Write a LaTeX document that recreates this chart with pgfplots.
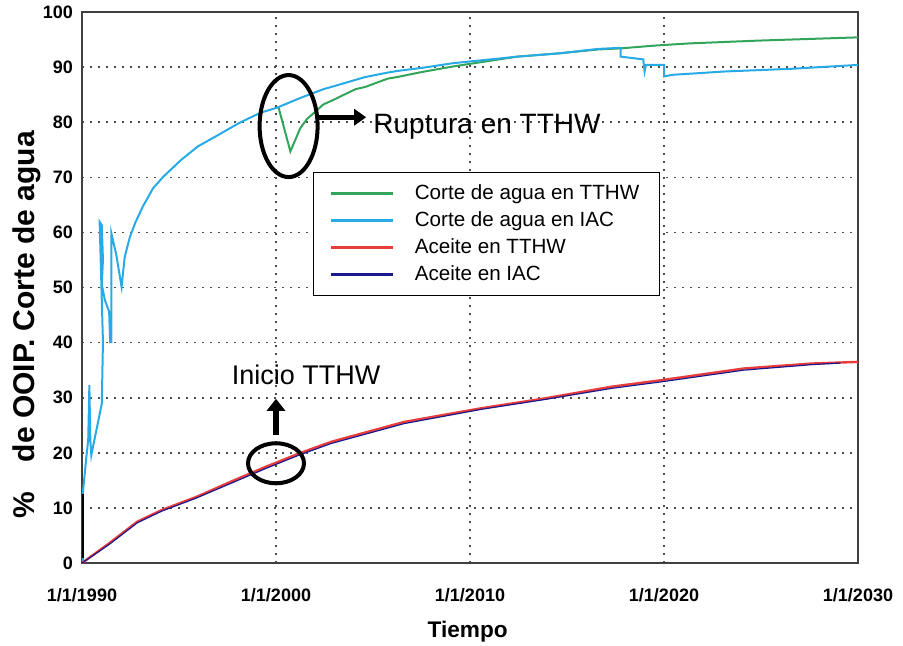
\documentclass[border=0pt]{standalone}
\usepackage{pgfplots}
\pgfplotsset{compat=1.18}
\usepackage{fontspec}
\setmainfont{Liberation Sans}
\usetikzlibrary{arrows.meta}
\definecolor{cgreen}{RGB}{50,165,90}
\definecolor{cblue}{RGB}{40,170,230}
\definecolor{cred}{RGB}{235,60,60}
\definecolor{cnavy}{RGB}{25,25,140}
\begin{document}
\begin{tikzpicture}
\begin{axis}[
  scale only axis, width=388pt, height=275.5pt,
  xmin=1990, xmax=2030, ymin=0, ymax=100,
  xtick={1990,2000,2010,2020,2030},
  xticklabels={1/1/1990,1/1/2000,1/1/2010,1/1/2020,1/1/2030},
  ytick={0,10,...,100},
  major tick length=0pt,
  grid=major,
  major grid style={draw=gray!60!black, line width=0.8pt, dash pattern=on 0.9pt off 3.1pt},
  axis line style={draw=gray!50!black, line width=0.8pt},
  /pgf/number format/assume math mode=true,
  tick label style={font=\bfseries\fontsize{9}{9}\selectfont},
  xticklabel style={yshift=-9pt},
  yticklabel style={xshift=-1pt},
  xlabel={Tiempo},
  xlabel style={font=\bfseries\fontsize{11.3}{12}\selectfont, at={(axis description cs:0.497,-0.125)}, anchor=center},
  ylabel={\%\quad de OOIP. Corte de agua},
  ylabel style={font=\bfseries\fontsize{15}{16}\selectfont, at={(axis description cs:-0.071,0.432)}, anchor=center},
  legend style={at={(axis description cs:0.298,0.7096)}, anchor=north west, draw=black, line width=0.6pt,
    font=\fontsize{10.3}{12}\selectfont, cells={anchor=west}, inner xsep=8pt, inner ysep=4pt, row sep=0.5pt,
    /tikz/every odd column/.append style={column sep=8pt}},
  legend image code/.code={\draw[#1, line width=1.5pt] (0pt,0pt) -- (31pt,0pt);},
]
% Corte de agua en TTHW
\addplot[cgreen, line width=1pt] coordinates {
(2000.13,82.7) (2000.74,74.7) (2001.25,78.9) (2001.6,80.6) (2001.93,81.6) (2002.43,83.2)
(2002.93,84.0) (2004.1,86.0) (2004.6,86.4) (2005.75,87.9) (2006.25,88.2) (2007.5,89.1)
(2009.1,90.1) (2010.75,91.0) (2012.43,91.9) (2014.6,92.5) (2016.6,93.2) (2017.77,93.4)
(2019.5,93.9) (2021.3,94.3) (2024.8,94.8) (2030,95.4)};
\addlegendentry{Corte de agua en TTHW}
% Corte de agua en IAC
\addplot[cblue, line width=1pt] coordinates {
(1990.05,0) (1990.05,12.9) (1990.22,19.1) (1990.32,22.3) (1990.38,32.3) (1990.43,22.3)
(1990.48,19.6) (1991.02,28.9) (1991.08,40.1) (1990.91,61.9) (1991.02,61.3) (1991.08,55.0)
(1991.02,50.5) (1991.18,47.7) (1991.40,45.6) (1991.45,40.1) (1991.51,40.1) (1991.51,59.9)
(1991.77,55.9) (1992.04,50.1) (1992.20,55.5) (1992.47,59.2) (1992.74,61.7) (1993.12,64.6)
(1993.66,68.0) (1994.19,70.1) (1995.09,73.1) (1995.97,75.6) (1996.88,77.4) (1998.12,79.9) (1999.19,81.7)
(2000.10,82.7) (2001.25,84.4) (2002.45,86.0) (2002.95,86.5) (2004.6,88.2) (2005.75,89.0)
(2006.25,89.3) (2007.6,89.9) (2009.1,90.7) (2012.45,91.9) (2014.6,92.5) (2016.6,93.3)
(2017.77,93.5) (2017.77,91.9) (2018.93,91.4) (2019.0,89.2) (2019.07,90.4) (2020.0,90.4)
(2020.0,88.3) (2020.43,88.6) (2023.1,89.2) (2026.6,89.7) (2030,90.4)};
\addlegendentry{Corte de agua en IAC}
% Aceite en TTHW
\addplot[cred, line width=1.2pt] coordinates {
(1990.0,0) (1991.41,3.6) (1992.85,7.5) (1994.1,9.6) (1995.9,12.0) (1997.7,14.8)
(1999.5,17.5) (2001.2,19.9) (2002.85,22.0) (2006.6,25.6) (2010.6,28.1) (2013.9,29.9)
(2017.3,32.0) (2019.9,33.2) (2024.1,35.3) (2027.6,36.2) (2030,36.5)};
\addlegendentry{Aceite en TTHW}
% Aceite en IAC
\addplot[cnavy, line width=0.6pt] coordinates {
(1990.0,0) (1991.41,3.4) (1992.85,7.3) (1994.1,9.4) (1995.9,11.8) (1997.7,14.5)
(1999.5,17.2) (2001.2,19.6) (2002.85,21.7) (2006.6,25.3) (2010.6,27.9) (2013.9,29.7)
(2017.3,31.7) (2019.9,32.9) (2024.1,35.0) (2027.6,36.0) (2029.1,36.3)};
\addlegendentry{Aceite en IAC}
\addplot[black, line width=1.5pt, forget plot] coordinates {(1990.03,1) (1990.03,12.5)};
% annotations
\draw[black, line width=2pt] (axis cs:2000.65,79.3) ellipse [x radius=14.5pt, y radius=25.5pt];
\draw[black, line width=2.5pt, -{Triangle[length=6pt,width=8pt]}] (axis cs:2002.2,80.9) -- (axis cs:2004.65,80.9);
\node[anchor=west, font=\fontsize{14}{15}\selectfont, inner sep=0pt] at (axis cs:2005.0,79.1) {Ruptura en TTHW};
\draw[black, line width=2pt] (axis cs:2000.0,18.1) ellipse [x radius=14pt, y radius=10pt];
\draw[black, line width=3pt, -{Triangle[length=6pt,width=9pt]}] (axis cs:2000.0,23.3) -- (axis cs:2000.0,29.8);
\node[font=\fontsize{13.5}{14}\selectfont, inner sep=0pt] at (axis cs:2001.55,34.1) {Inicio TTHW};
\end{axis}
\pgfresetboundingbox
\path (-41pt,-41pt) rectangle (410.5pt,281.5pt);
\end{tikzpicture}
\end{document}
